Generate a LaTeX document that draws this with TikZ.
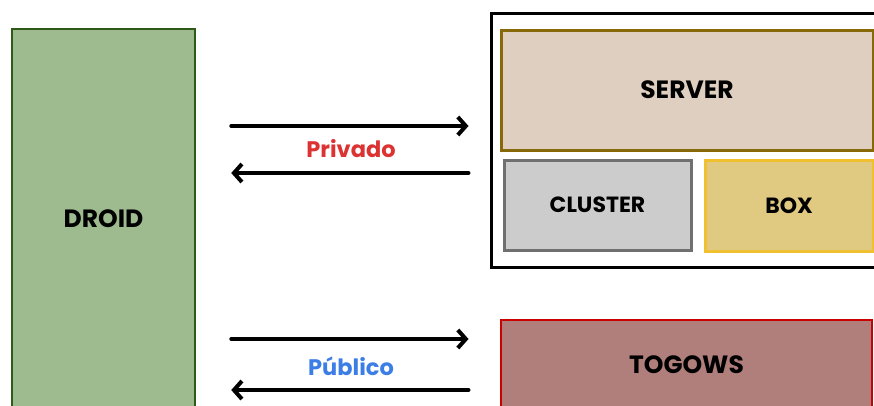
\documentclass[tikz,border=0pt]{standalone}
\usepackage{fontspec}
\setmainfont{Poppins}
\usetikzlibrary{arrows.meta}

\definecolor{droidfill}{RGB}{157,187,142}
\definecolor{droidline}{RGB}{45,90,25}
\definecolor{serverfill}{RGB}{222,207,192}
\definecolor{serverline}{RGB}{135,105,10}
\definecolor{clusterfill}{RGB}{204,204,204}
\definecolor{clusterline}{RGB}{112,112,112}
\definecolor{boxfill}{RGB}{224,201,128}
\definecolor{boxline}{RGB}{240,192,48}
\definecolor{togowsfill}{RGB}{176,126,123}
\definecolor{togowsline}{RGB}{204,0,0}
\definecolor{privred}{RGB}{220,50,50}
\definecolor{pubblue}{RGB}{60,125,230}

\tikzset{
  block/.style={draw, rectangle, inner sep=0pt, font=\fontsize{25}{28}\selectfont\bfseries},
  smallblock/.style={block, font=\fontsize{22}{26}\selectfont\bfseries},
  link/.style={line width=4pt, line cap=round, -{Straight Barb[length=8pt,width=18pt]}},
  tag/.style={font=\fontsize{22.5}{26}\selectfont\bfseries}
}

\begin{document}
\begin{tikzpicture}[x=1pt, y=-1pt]
  \useasboundingbox (0,0) rectangle (874,405);
  \clip (0,0) rectangle (874,405);

  \node[block, fill=droidfill, draw=droidline, line width=2.5pt,
        minimum width=183pt, minimum height=380pt] (droid) at (103.5,219) {DROID};

  \node[block, draw=black, line width=3pt,
        minimum width=393pt, minimum height=254pt] (outer) at (687.5,140) {};
  \node[block, fill=serverfill, draw=serverline, line width=3pt,
        minimum width=372pt, minimum height=120pt] (server) at (687,90) {SERVER};
  \node[smallblock, fill=clusterfill, draw=clusterline, line width=3pt,
        minimum width=187pt, minimum height=90pt] (cluster) at (597.5,205) {CLUSTER};
  \node[smallblock, fill=boxfill, draw=boxline, line width=3pt,
        minimum width=168pt, minimum height=91pt] (box) at (789,205.5) {BOX};

  \node[block, fill=togowsfill, draw=togowsline, line width=2.5pt,
        minimum width=371pt, minimum height=89pt] (togows) at (686.5,364.5) {TOGOWS};

  % private link
  \draw[link, shorten <=35pt, shorten >=21pt] (droid.east |- 0,126) -- (outer.west |- 0,126);
  \draw[link, shorten <=21pt, shorten >=35pt] (outer.west |- 0,173) -- (droid.east |- 0,173);
  \node[tag, text=privred] (privado) at (351,149) {Privado};

  % public link
  \draw[link, shorten <=35pt, shorten >=21pt] (droid.east |- 0,339) -- (outer.west |- 0,339);
  \draw[link, shorten <=21pt, shorten >=35pt] (outer.west |- 0,390) -- (droid.east |- 0,390);
  \node[tag, text=pubblue] (publico) at (351,366) {Público};
\end{tikzpicture}
\end{document}
